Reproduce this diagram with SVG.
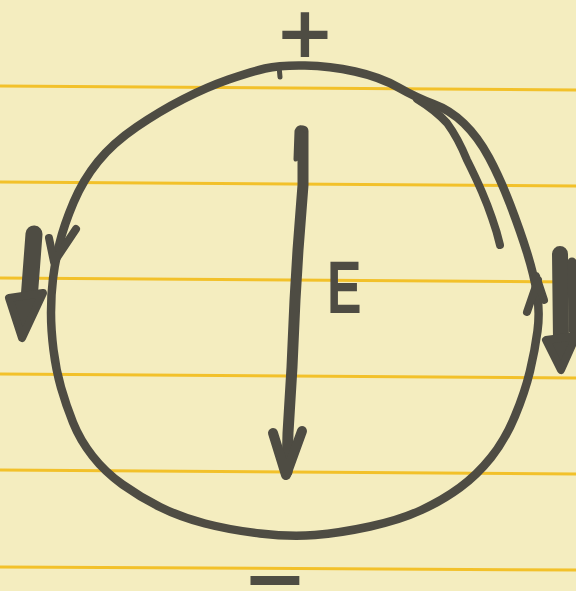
<svg xmlns="http://www.w3.org/2000/svg" width="576" height="591" viewBox="0 0 576 591">
<style>
.rule{stroke:#f2c12a;stroke-width:3;fill:none}
.ink{stroke:#4e4c43;fill:none;stroke-linecap:round;stroke-linejoin:round}
.solid{stroke:#4e4c43;fill:#4e4c43;stroke-linecap:round;stroke-linejoin:round}
.txt{fill:#4e4c43;font-family:"DejaVu Sans","Liberation Sans",sans-serif;font-weight:bold}
</style>
<rect id="paper" x="0" y="0" width="576" height="591" fill="#f4edbf"/>
<g id="ruled-lines">
<line class="rule" x1="0" y1="86" x2="576" y2="90"/>
<line class="rule" x1="0" y1="182" x2="576" y2="186"/>
<line class="rule" x1="0" y1="278" x2="576" y2="282"/>
<line class="rule" x1="0" y1="374" x2="576" y2="378"/>
<line class="rule" x1="0" y1="470" x2="576" y2="474"/>
<line class="rule" x1="0" y1="567" x2="576" y2="570"/>
</g>
<g id="loop">
<path class="ink" stroke-width="8.5" d="M305,65.5 Q330,66 355,71.5 Q380,77 398.5,87.5 Q417,98 433.5,104 Q450,110 464,123.5 Q478,137 489,157.5 Q500,178 510,204 Q520,230 527,252.5 Q534,275 537,293.5 Q540,312 537.5,331 Q535,350 530,371 Q525,392 515,416 Q505,440 491,457.5 Q477,475 460,487.5 Q443,500 421.5,510 Q400,520 370,526.5 Q340,533 315,535 Q290,537 260,533.5 Q230,530 205,523.5 Q180,517 160,507 Q140,497 122.5,484.5 Q105,472 92.5,456 Q80,440 73,422.5 Q66,405 61,387.5 Q56,370 53.5,350 Q51,330 51,312.5 Q51,295 53,278.5 Q55,262 59.5,243.5 Q64,225 73.5,202.5 Q83,180 98,161.5 Q113,143 136.5,127 Q160,111 183.5,99 Q207,87 228.5,79.5 Q250,72 265,68.5 Q280,65 305,65.5 Z"/>
<path class="ink" stroke-width="8" d="M417,99 Q435,110 447,123 Q458,138 467,160 Q476,178 482,192 Q488,206 492,218 Q497,232 500,245"/>
<path class="ink" stroke-width="5" d="M279,66 L280,77"/>
</g>
<g id="loop-arrowheads">
<path class="ink" stroke-width="8" d="M49,238 L54,262 L76,229"/>
<path class="ink" stroke-width="8" d="M527,312 L538,280 M536,276 L544,300"/>
</g>
<g id="current-arrows">
<path class="ink" stroke-width="17" d="M34,234 L29,300"/>
<path class="solid" stroke-width="8" d="M9,298 L43,293 L22,338 Z"/>
<path class="ink" stroke-width="16" d="M560,254 L561,340"/>
<path class="ink" stroke-width="9" d="M572,262 L573,330"/>
<path class="solid" stroke-width="8" d="M546,340 L576,336 L561,370 Z"/>
</g>
<g id="field-arrow">
<path class="ink" stroke-width="11" d="M303,131 L303,185 L298,250 L295,300 L292,367 L288,433 L287,472"/>
<path class="ink" stroke-width="5" d="M296,159 L297,131 Q300,125 305,130"/>
<path class="ink" stroke-width="10" d="M273,433 L286,475 L302,431"/>
</g>
<g id="labels">
<text class="txt" x="305" y="57" font-size="72" text-anchor="middle">+</text>
<text class="txt" x="275" y="605" font-size="78" text-anchor="middle">−</text>
<text class="txt" font-size="74" transform="translate(327,313) scale(0.7,1)" x="0" y="0" style="font-family:'Liberation Sans',sans-serif">E</text>
</g>
</svg>
